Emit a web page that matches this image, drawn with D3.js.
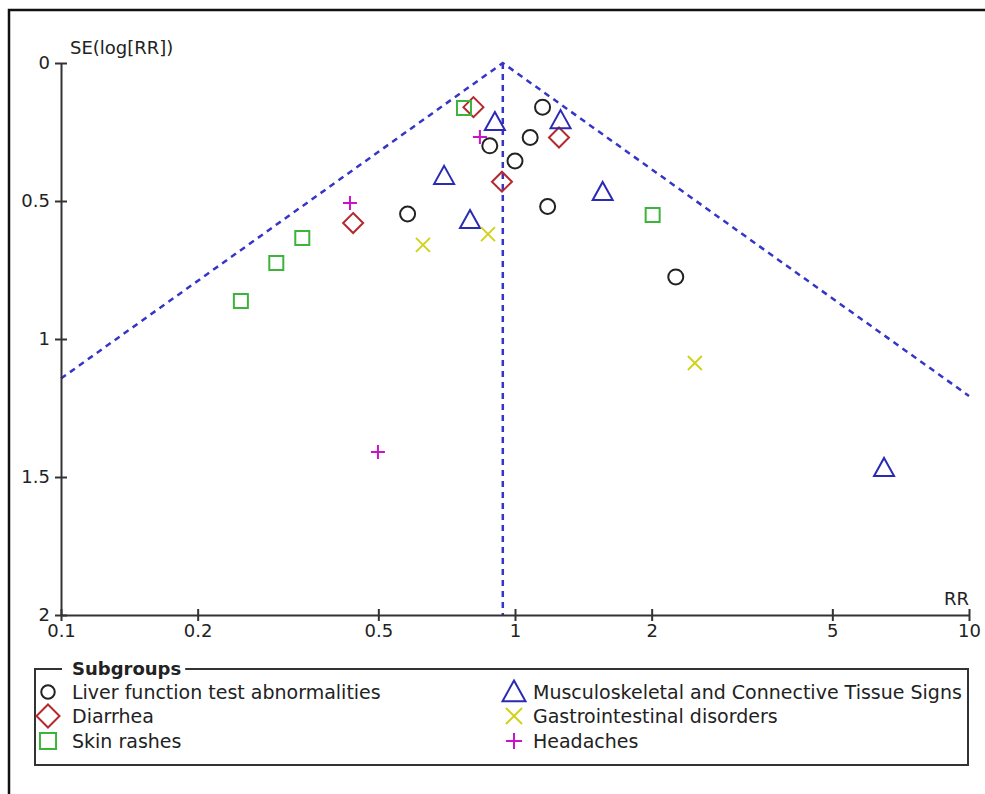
<!DOCTYPE html>
<head>
   <meta charset="utf-8">
   <script src="https://d3js.org/d3.v7.min.js"></script>
   <style>
   body{
       margin: 0;
       background: #ffffff;
   }
   text{
      font-family: "DejaVu Sans", sans-serif;
      fill: #222222;
   }
   .axis text{
      font-size: 18px;
   }
   .axis path.domain, .axis .tick line{
      stroke: #333333;
      stroke-width: 2;
   }
   text.axisTitle{
      font-size: 18px;
   }
   text.legTitle{
      font-size: 18px;
      font-weight: 700;
   }
   text.legLabel{
      font-size: 19px;
   }
   .funnel{
      fill: none;
      stroke: #3535c8;
      stroke-width: 2.5;
      stroke-dasharray: 6 5;
   }
   </style>
</head>

<body>
   <script>
const width  = 985;
const height = 794;

// pooled risk ratio (apex of the funnel)
const pooledRR = 0.94;

// [RR, SE(log RR)] per subgroup
const liver    = [[1.15,0.16],[1.08,0.27],[0.88,0.30],[1.00,0.355],[1.18,0.52],[0.58,0.547],[2.26,0.775]];
const diarrhea = [[0.81,0.16],[1.25,0.27],[0.936,0.43],[0.44,0.58]];
const skin     = [[0.772,0.163],[2.01,0.551],[0.34,0.634],[0.298,0.725],[0.249,0.862]];
const musculo  = [[0.903,0.214],[1.26,0.207],[0.698,0.409],[1.56,0.467],[0.796,0.569],[6.5,1.467]];
const gastro   = [[0.872,0.62],[0.627,0.659],[2.49,1.087]];
const headache = [[0.837,0.268],[0.433,0.507],[0.499,1.409]];

const xTicks      = [0.1, 0.2, 0.5, 1, 2, 5, 10];
const xTickLabels = ['0.1', '0.2', '0.5', '1', '2', '5', '10'];
const yTicks      = [0, 0.5, 1, 1.5, 2];
const yTickLabels = ['0', '0.5', '1', '1.5', '2'];

const groups = [
   {name: 'Liver function test abnormalities', data: liver, shape: 'circle', colour: '#222222'},
   {name: 'Diarrhea', data: diarrhea, shape: 'diamond', colour: '#b4282e'},
   {name: 'Skin rashes', data: skin, shape: 'square', colour: '#3cb43c'},
   {name: 'Musculoskeletal and Connective Tissue Signs', data: musculo, shape: 'triangle', colour: '#2a2ab4'},
   {name: 'Gastrointestinal disorders', data: gastro, shape: 'cross', colour: '#d2d21e'},
   {name: 'Headaches', data: headache, shape: 'plus', colour: '#c814c8'}
];

// marker outlines, centred on 0,0
function shapePath(shape, s){
   s = s || 1;
   switch(shape){
      case 'circle':   return d3.arc()({innerRadius: 7.5*s, outerRadius: 7.5*s, startAngle: 0, endAngle: 2*Math.PI});
      case 'diamond':  return `M0,${-10*s}L${10*s},0L0,${10*s}L${-10*s},0Z`;
      case 'square':   return `M${-7*s},${-7*s}h${14*s}v${14*s}h${-14*s}Z`;
      case 'triangle': return `M0,${-10*s}L${10*s},${8*s}L${-10*s},${8*s}Z`;
      case 'cross':    return `M${-7*s},${-7*s}L${7*s},${7*s}M${-7*s},${7*s}L${7*s},${-7*s}`;
      case 'plus':     return `M${-7*s},0H${7*s}M0,${-7*s}V${7*s}`;
   }
}

const margin = {top: 63, right: 16, bottom: 179, left: 61};

let svg = d3.select("body").append("svg")
   .attr("width", width)
   .attr("height", height);

// outer frame (top + left only visible)
svg.append('path')
   .attr('d', `M9,${height}V10H${width}`)
   .attr('fill', 'none')
   .attr('stroke', '#111')
   .attr('stroke-width', 2.5);

let x = d3.scaleLog()
   .domain([0.1, 10])
   .range([margin.left, width - margin.right]);

let y = d3.scaleLinear()
   .domain([0, 2])
   .range([margin.top, height - margin.bottom]);

// funnel: 95% limits around pooled estimate
const seLeft  = (Math.log(pooledRR) - Math.log(0.1)) / 1.96;
const seRight = (Math.log(10) - Math.log(pooledRR)) / 1.96;

const line = d3.line().x(d => x(d[0])).y(d => y(d[1]));

svg.append('path')
   .attr('class', 'funnel')
   .attr('d', line([[0.1, seLeft], [pooledRR, 0], [10, seRight]]));

svg.append('path')
   .attr('class', 'funnel')
   .attr('d', line([[pooledRR, 0], [pooledRR, 2]]));

// axes
let xAxis = d3.axisBottom(x)
   .tickValues(xTicks)
   .tickFormat((d, i) => xTickLabels[i])
   .tickSizeOuter(0)
   .tickSizeInner(6)
   .tickPadding(3);

let yAxis = d3.axisLeft(y)
   .tickValues(yTicks)
   .tickFormat((d, i) => yTickLabels[i])
   .tickSizeOuter(0)
   .tickSizeInner(6)
   .tickPadding(5);

svg.append('g')
   .attr('class', 'axis xAxis')
   .attr('transform', `translate(0, ${y(2)})`)
   .call(xAxis)
   .call(g => g.selectAll('.tick line').attr('y1', -6).attr('y2', 6));

svg.append('g')
   .attr('class', 'axis yAxis')
   .attr('transform', `translate(${x(0.1)}, 0)`)
   .call(yAxis)
   .call(g => g.selectAll('.tick line').attr('x1', -6).attr('x2', 6));

svg.selectAll('.axis text').style('fill', '#222');

svg.append('text')
   .attr('class', 'axisTitle')
   .attr('x', x(0.1) + 9)
   .attr('y', y(0) - 9)
   .text('SE(log[RR])');

svg.append('text')
   .attr('class', 'axisTitle')
   .attr('x', x(10))
   .attr('y', y(2) - 10)
   .style('text-anchor', 'end')
   .text('RR');

// points
const pts = svg.append('g');
groups.forEach(gr => {
   pts.selectAll(null)
      .data(gr.data)
      .enter()
      .append('path')
      .attr('transform', d => `translate(${x(d[0])},${y(d[1])})`)
      .attr('d', shapePath(gr.shape))
      .attr('fill', 'none')
      .attr('stroke', gr.colour)
      .attr('stroke-width', 2);
});

// legend
const leg = {x: 35, y: 669, w: 933, h: 96};
const legG = svg.append('g');

legG.append('rect')
   .attr('x', leg.x).attr('y', leg.y)
   .attr('width', leg.w).attr('height', leg.h)
   .attr('fill', 'none')
   .attr('stroke', '#333')
   .attr('stroke-width', 2);

const legTitle = legG.append('text')
   .attr('class', 'legTitle')
   .attr('x', 72)
   .attr('y', leg.y + 6)
   .text('Subgroups');

const tb = legTitle.node().getBBox();
legG.insert('rect', '.legTitle')
   .attr('x', tb.x - 10).attr('y', leg.y - 3)
   .attr('width', tb.width + 14).attr('height', 6)
   .attr('fill', '#fff');

const colX   = [48, 514];
const textX  = [72, 533];
const rowY   = [692, 716, 741];

groups.forEach((gr, i) => {
   const c = Math.floor(i / 3), r = i % 3;
   legG.append('path')
      .attr('transform', `translate(${colX[c]},${rowY[r]})`)
      .attr('d', shapePath(gr.shape, gr.shape == 'circle' ? 0.9 : 1.15))
      .attr('fill', 'none')
      .attr('stroke', gr.colour)
      .attr('stroke-width', 2);
   legG.append('text')
      .attr('class', 'legLabel')
      .attr('x', textX[c])
      .attr('y', rowY[r] + 7)
      .text(gr.name);
});
   </script>
</body>
